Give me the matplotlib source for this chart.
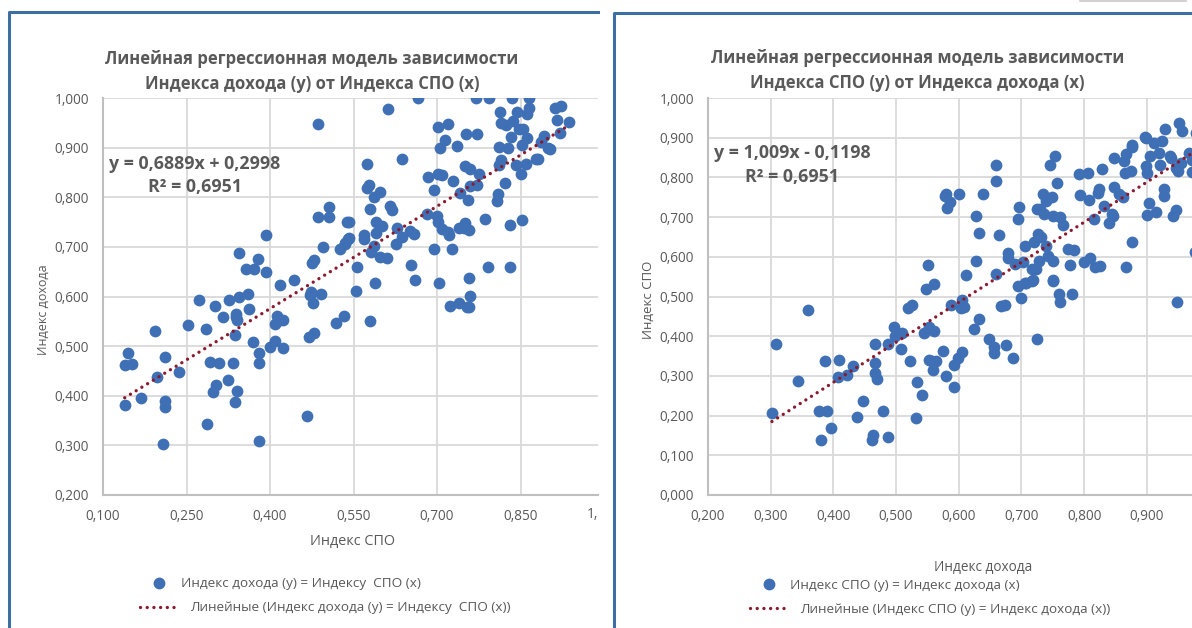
import matplotlib
matplotlib.use('Agg')
import matplotlib.pyplot as plt
from matplotlib.lines import Line2D

plt.rcParams['font.family'] = ['Open Sans', 'DejaVu Sans']

W, H = 1192, 628
BLUE = '#3f6fb5'
RED = '#8b1a2e'
TEXT = '#595959'
GRID = '#d9d9d9'
FRAME = '#3d6fa5'

# values; the right chart shows the same pairs swapped
spo = [.487, .506, .487, .506, .539, .393, .540, .535, .526, .495, .344, .378, .357, .372,
       .393, .479, .475, .418, .443, .473, .472, .491, .272, .327, .345, .360, .301, .362,
       .315, .338, .338, .341, .253, .285, .194, .337, .478, .413, .409, .418, .424, .532,
       .519, .479, .470, .369, .409, .400, .424, .380, .145, .139, .152, .212, .293, .308,
       .333, .381, .197, .237, .325, .303, .297, .340, .337, .169, .139, .212, .212, .287,
       .380, .207, .467,
       .665, .770, .794, .834, .865, .611, .922, .911, .865, .844, .813, .862, .916, .937,
       .837, .815, .824, .702, .719, .848, .855, .752, .772, .832, .861, .892, .921, .714,
       .886, .853, .735, .706, .812, .828, .899, .902, .637, .815, .574, .812, .841, .859,
       .877, .882, .750, .759, .775, .850, .684, .702, .709, .728, .772, .760, .577, .574,
       .694, .822, .598, .586, .742, .810, .808, .756, .616, .619, .579, .681, .700, .702,
       .786, .853, .831, .541, .590, .601, .628, .708, .740, .751, .748, .758, .720, .721,
       .590, .651, .658, .569, .569, .637, .627, .542, .535, .586, .581, .695, .726, .598,
       .610, .557, .654, .791, .831, .589, .661, .703, .757, .554, .759, .724, .739, .754,
       .758, .580]
income = [.948, .781, .761, .760, .750, .724, .716, .707, .695, .699, .687, .675, .656, .656,
          .649, .673, .667, .624, .633, .609, .603, .605, .593, .593, .599, .605, .580, .575,
          .559, .564, .558, .553, .542, .534, .531, .522, .587, .560, .544, .553, .552, .561,
          .547, .526, .519, .508, .510, .499, .497, .487, .487, .461, .463, .479, .469, .466,
          .466, .467, .438, .447, .432, .422, .407, .409, .387, .396, .381, .390, .377, .344,
          .309, .302, .360,
          1.0, 1.0, 1.0, 1.0, 1.0, .977, .984, .979, .979, .972, .972, .968, .956, .952,
          .954, .950, .946, .942, .947, .938, .937, .927, .927, .921, .920, .924, .929, .915,
          .912, .905, .904, .900, .901, .899, .899, .897, .877, .875, .867, .865, .864, .866,
          .877, .877, .862, .856, .847, .847, .840, .846, .844, .832, .824, .822, .825, .818,
          .815, .828, .810, .800, .808, .806, .792, .794, .783, .775, .777, .767, .762, .750,
          .756, .754, .745, .750, .750, .742, .739, .736, .739, .748, .739, .735, .729, .724,
          .728, .731, .726, .723, .716, .720, .705, .718, .706, .702, .689, .695, .696, .679,
          .678, .660, .664, .660, .660, .627, .633, .628, .638, .612, .601, .581, .586, .578,
          .579, .551]

left_trend_x = [.139, .937]
left_trend_y = [.396, .945]
right_trend_x = [.302, 1.0]
right_trend_y = [.185, .889]

left_xticks = [.10, .25, .40, .55, .70, .85]
left_yticks = [.2, .3, .4, .5, .6, .7, .8, .9, 1.0]
right_xticks = [.2, .3, .4, .5, .6, .7, .8, .9]
right_yticks = [0, .1, .2, .3, .4, .5, .6, .7, .8, .9, 1.0]


def comma(values):
    return [f'{v:.3f}'.replace('.', ',') for v in values]


def draw_panel(ax, x, y, trend_x, trend_y, xticks, yticks):
    ax.scatter(x, y, s=72, color=BLUE, linewidths=0, zorder=3)
    ax.plot(trend_x, trend_y, color=RED, lw=2.4, linestyle=(0, (0.01, 2.0)),
            dash_capstyle='round', zorder=4)
    ax.set_xticks(xticks)
    ax.set_yticks(yticks)
    ax.set_xticklabels(comma(xticks))
    ax.set_yticklabels(comma(yticks))
    ax.tick_params(length=0, labelsize=9.8, labelcolor=TEXT, pad=10)
    ax.grid(True, color=GRID, lw=1.3)
    ax.set_axisbelow(True)
    for side in ('right', 'top'):
        ax.spines[side].set_visible(False)
    for side in ('left', 'bottom'):
        ax.spines[side].set_color('#bfbfbf')
        ax.spines[side].set_linewidth(1.5)


def px_text(x, y, s, **kw):
    kw.setdefault('color', TEXT)
    kw.setdefault('ha', 'center')
    kw.setdefault('va', 'center')
    fig.text(x / W, 1 - y / H, s, **kw)


def px_line(xs, ys, **kw):
    fig.add_artist(Line2D([v / W for v in xs], [1 - v / H for v in ys], **kw))


def legend_row(handle, label, x, y, pad):
    fig.legend([handle], [label], loc='center left', bbox_to_anchor=(x / W, 1 - y / H),
               frameon=False, fontsize=9.7, labelcolor=TEXT, handlelength=2.75, handletextpad=pad,
               borderpad=0, borderaxespad=0)


fig = plt.figure(figsize=(W / 100, H / 100), dpi=100, facecolor='white')

ax1 = fig.add_axes([103 / W, 1 - 495 / H, (598 - 103) / W, (495 - 98) / H])
draw_panel(ax1, spo, income, left_trend_x, left_trend_y, left_xticks, left_yticks)
ax1.set_xlim(.1, .989)
ax1.set_ylim(.2, 1.0)

ax2 = fig.add_axes([708 / W, 1 - 495 / H, (1192 - 708) / W, (495 - 98) / H])
draw_panel(ax2, income, spo, right_trend_x, right_trend_y, right_xticks, right_yticks)
ax2.set_xlim(.2, .972)
ax2.set_ylim(0, 1.0)

# panel frames, cropped on the right and bottom in the source image
px_line([9, 9, 598], [628, 12, 12], color=FRAME, lw=2.2)
px_line([614, 614, 1192], [628, 13, 13], color=FRAME, lw=2.2)
px_line([1080, 1186], [0.5, 0.5], color='#c8c8c8', lw=1.2)

px_text(312, 59, 'Линейная регрессионная модель зависимости', fontsize=12, fontweight='bold')
px_text(312, 84, 'Индекса дохода (y) от Индекса СПО (x)', fontsize=12, fontweight='bold')
px_text(917.5, 58, 'Линейная регрессионная модель зависимости', fontsize=12, fontweight='bold')
px_text(917.5, 83, 'Индекса СПО (y) от Индекса дохода (x)', fontsize=12, fontweight='bold')

px_text(195, 164, 'y = 0,6889x + 0,2998', fontsize=12.8, fontweight='bold')
px_text(195, 187, 'R² = 0,6951', fontsize=12.8, fontweight='bold')
px_text(792, 153, 'y = 1,009x - 0,1198', fontsize=12.8, fontweight='bold')
px_text(792, 177, 'R² = 0,6951', fontsize=12.8, fontweight='bold')

px_text(353, 541, 'Индекс СПО', fontsize=10.4)
px_text(43, 310, 'Индекс дохода', fontsize=9, rotation=90)
px_text(983, 567, 'Индекс дохода', fontsize=9.8)
px_text(648, 300, 'Индекс СПО', fontsize=9.5, rotation=90)
px_text(592, 514, '1,', fontsize=9.8)

dot = Line2D([], [], linestyle='none', marker='o', markersize=8.5, color=BLUE, markeredgewidth=0)
dots = Line2D([], [], color=RED, lw=2.4, linestyle=(0, (0.01, 2.0)), dash_capstyle='round')
legend_row(dot, 'Индекс дохода (y) = Индексу  СПО (x)', 140, 584, 0.3)
legend_row(dots, 'Линейные (Индекс дохода (y) = Индексу  СПО (x))', 140, 608, 1.0)
legend_row(dot, 'Индекс СПО (y) = Индекс дохода (x)', 750, 585, 0.25)
legend_row(dots, 'Линейные (Индекс СПО (y) = Индекс дохода (x))', 750, 609, 1.0)

fig.savefig('out.png', dpi=100)
